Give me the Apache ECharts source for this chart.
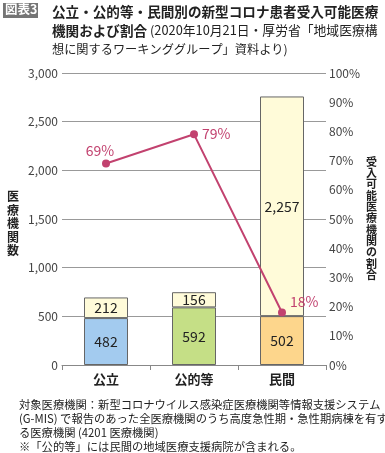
<!DOCTYPE html>
<html><head><meta charset="utf-8">
<script src="https://cdn.jsdelivr.net/npm/echarts@6/dist/echarts.min.js"></script>
<style>html,body{margin:0;padding:0;background:#fff}#c{width:385px;height:453px}</style>
</head><body><div id="c"></div>
<script>
var categories = ['公立', '公的等', '民間'];
var acceptValues = [482, 592, 502];
var otherValues = [212, 156, 2257];
var ratioValues = [69, 79, 18];
var leftTicks = [0, 500, 1000, 1500, 2000, 2500, 3000];
var rightTicks = [0, 10, 20, 30, 40, 50, 60, 70, 80, 90, 100];

var barColors = ['#a3cbef', '#c5df86', '#fdd68c'];
var creamColor = '#fffbd9';
var lineColor = '#c2426f';
var FONT = '"Noto Sans CJK JP", "Noto Sans", sans-serif';

var chart = echarts.init(document.getElementById('c'), null, {renderer: 'canvas'});
var labelPos = [
  {position: 'top', offset: [-6, 2]},
  {position: 'right', offset: [0, -1]},
  {position: 'right', offset: [0, -11]}
];
chart.setOption({
  animation: false,
  textStyle: {fontFamily: FONT},
  title: {
    left: 52, top: 2, padding: 0,
    text: '{b|公立・公的等・民間別の新型コロナ患者受入可能医療}\n{b|機関および割合}{m| (2020年10月21日・厚労省「地域医療構}\n{n|想に関するワーキンググループ」資料より)}',
    textStyle: {
      fontWeight: 'normal',
      rich: {
        b: {fontSize: 13.6, fontWeight: 'bold', color: '#222', lineHeight: 19, fontFamily: FONT},
        m: {fontSize: 12.8, fontWeight: 'normal', color: '#222', lineHeight: 19, fontFamily: FONT},
        n: {fontSize: 12.2, fontWeight: 'normal', color: '#222', lineHeight: 19, fontFamily: FONT}
      }
    }
  },
  grid: {left: 62, right: 59, top: 73, bottom: 88},
  xAxis: {
    type: 'category', data: categories,
    axisLine: {lineStyle: {color: '#888', width: 1}},
    axisTick: {show: true, length: 5, lineStyle: {color: '#888'}},
    axisLabel: {fontSize: 13, fontWeight: 'bold', color: '#222', margin: 8, fontFamily: FONT}
  },
  yAxis: [{
    type: 'value', min: 0, max: 3000, interval: 500,
    axisLine: {show: false}, axisTick: {show: false},
    splitLine: {lineStyle: {color: '#999', width: 1}},
    axisLabel: {fontSize: 12, color: '#444', margin: 4, fontFamily: FONT,
      formatter: function (v) { return v.toLocaleString('en-US'); }}
  }, {
    type: 'value', min: 0, max: 100, interval: 10,
    axisLine: {show: false}, axisTick: {show: false}, splitLine: {show: false},
    axisLabel: {fontSize: 12, color: '#444', margin: 3, fontFamily: FONT, formatter: '{value}%'}
  }],
  series: [{
    type: 'bar', stack: 's', barWidth: 44,
    data: acceptValues.map(function (v, i) { return {value: v, itemStyle: {color: barColors[i]}}; }),
    itemStyle: {borderColor: '#666', borderWidth: 1},
    label: {show: true, position: 'inside', fontSize: 14, color: '#222', fontFamily: FONT}
  }, {
    type: 'bar', stack: 's', barWidth: 44,
    data: otherValues,
    itemStyle: {color: creamColor, borderColor: '#666', borderWidth: 1},
    label: {show: true, position: 'inside', fontSize: 14, color: '#222', fontFamily: FONT,
      formatter: function (p) { return p.value.toLocaleString('en-US'); }}
  }, {
    type: 'line', yAxisIndex: 1, z: 5,
    data: ratioValues.map(function (v, i) {
      return {value: v, label: labelPos[i]};
    }),
    lineStyle: {color: lineColor, width: 2},
    itemStyle: {color: lineColor},
    symbol: 'circle', symbolSize: 8,
    label: {show: true, formatter: '{c}%', fontSize: 14, color: lineColor, distance: 4, fontFamily: FONT}
  }],
  graphic: [
    {type: 'rect', left: 3, top: 3, shape: {width: 35, height: 15}, style: {fill: '#757575'}},
    {type: 'text', left: 5, top: 3, style: {text: '図表3', font: 'bold 12.5px ' + FONT, fill: '#fff'}},
    {type: 'text', left: 7, top: 190, style: {text: '医\n療\n機\n関\n数', font: 'bold 12px ' + FONT, fill: '#222', lineHeight: 13.5}},
    {type: 'text', left: 366, top: 156, style: {text: '受\n入\n可\n能\n医\n療\n機\n関\nの\n割\n合', font: 'bold 11px ' + FONT, fill: '#222', lineHeight: 11.3}},
    {type: 'text', left: 19, top: 398, style: {
      text: '対象医療機関：新型コロナウイルス感染症医療機関等情報支援システム\n(G-MIS) で報告のあった全医療機関のうち高度急性期・急性期病棟を有す\nる医療機関 (4201 医療機関)\n※「公的等」には民間の地域医療支援病院が含まれる。',
      font: '11.3px ' + FONT, fill: '#222', lineHeight: 14}}
  ]
});
</script></body></html>
